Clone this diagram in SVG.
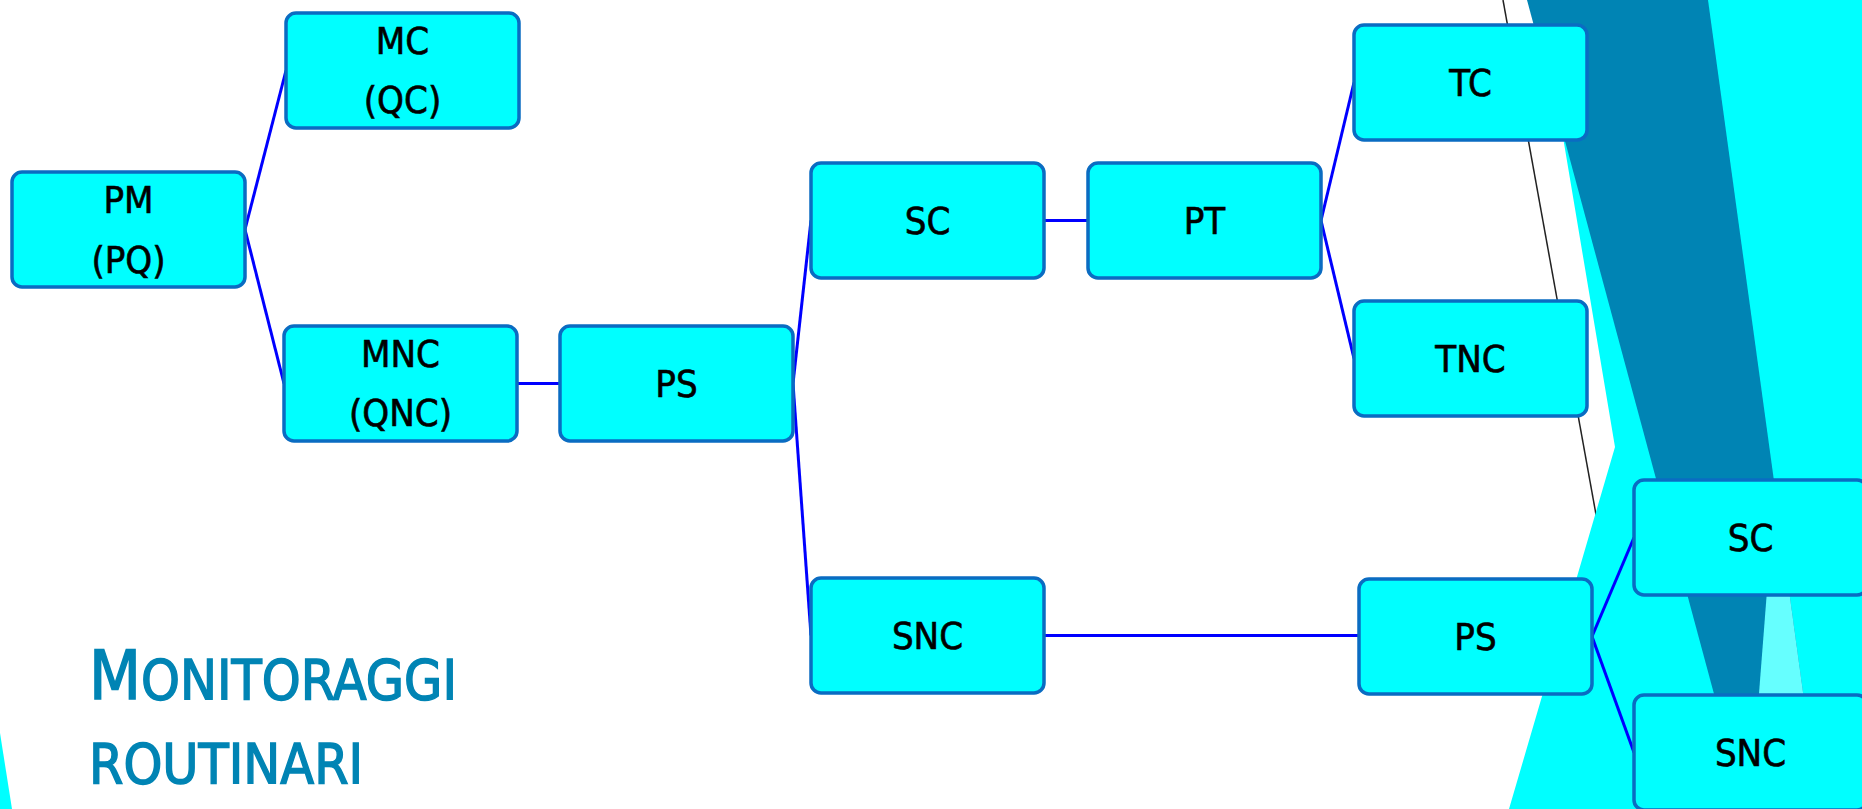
<svg xmlns="http://www.w3.org/2000/svg" width="1862" height="809" viewBox="0 0 1862 809">
  <style>
    .box { fill: #00FFFF; stroke: #0A6CC2; stroke-width: 3.5; }
    .lbl { font-family: "DejaVu Sans Condensed", "DejaVu Sans", sans-serif; font-stretch: condensed; font-size: 38px; fill: #000; stroke: #000; stroke-width: 0.6; text-anchor: middle; }
    .conn { stroke: #0000FF; stroke-width: 3; fill: none; }
    .title { font-family: "DejaVu Sans Condensed", "DejaVu Sans", sans-serif; font-stretch: condensed; font-size: 55px; fill: #0084B4; stroke: #0084B4; stroke-width: 1.4; }
  </style>
  <rect width="1862" height="809" fill="#FFFFFF"/>
  <g id="background">
    <line x1="1503" y1="0" x2="1597" y2="520" stroke="#222222" stroke-width="1.5"/>
    <polygon points="1540,0 1615,447 1509,809 1862,809 1862,0" fill="#00FFFF"/>
    <polygon points="1527,0 1708,0 1819,809 1745,809" fill="#0084B4"/>
    <polygon points="1775,488 1819,809 1750,809" fill="#66FFFF"/>
    <polygon points="0,733 12,809 0,809" fill="#00FFFF"/>
  </g>
  <g id="title">
    <text class="title" x="89" y="699"><tspan font-size="67">M</tspan>ONITORAGGI</text>
    <text class="title" x="89" y="783">ROUTINARI</text>
  </g>
  <g id="connectors">
    <line class="conn" x1="245" y1="229.5" x2="286" y2="70.5"/>
    <line class="conn" x1="245" y1="229.5" x2="284" y2="383.5"/>
    <line class="conn" x1="517" y1="383.5" x2="560" y2="383.5"/>
    <line class="conn" x1="793" y1="383.5" x2="811" y2="220.5"/>
    <line class="conn" x1="793" y1="383.5" x2="811" y2="635.5"/>
    <line class="conn" x1="1044" y1="220.5" x2="1088" y2="220.5"/>
    <line class="conn" x1="1321" y1="220.5" x2="1354" y2="82.5"/>
    <line class="conn" x1="1321" y1="220.5" x2="1354" y2="358.5"/>
    <line class="conn" x1="1044" y1="635.5" x2="1359" y2="635.5"/>
    <line class="conn" x1="1592" y1="636.5" x2="1634" y2="537.5"/>
    <line class="conn" x1="1592" y1="636.5" x2="1634" y2="752.5"/>
  </g>
  <g id="node-pm">
    <rect class="box" x="12" y="172" width="233" height="115" rx="10"/>
    <text class="lbl" x="128.5" y="213">PM</text>
    <text class="lbl" x="128.5" y="273">(PQ)</text>
  </g>
  <g id="node-mc">
    <rect class="box" x="286" y="13" width="233" height="115" rx="10"/>
    <text class="lbl" x="402.5" y="54">MC</text>
    <text class="lbl" x="402.5" y="113">(QC)</text>
  </g>
  <g id="node-mnc">
    <rect class="box" x="284" y="326" width="233" height="115" rx="10"/>
    <text class="lbl" x="400.5" y="367">MNC</text>
    <text class="lbl" x="400.5" y="426">(QNC)</text>
  </g>
  <g id="node-ps1">
    <rect class="box" x="560" y="326" width="233" height="115" rx="10"/>
    <text class="lbl" x="676.5" y="397">PS</text>
  </g>
  <g id="node-sc1">
    <rect class="box" x="811" y="163" width="233" height="115" rx="10"/>
    <text class="lbl" x="927.5" y="234">SC</text>
  </g>
  <g id="node-pt">
    <rect class="box" x="1088" y="163" width="233" height="115" rx="10"/>
    <text class="lbl" x="1204.5" y="234">PT</text>
  </g>
  <g id="node-tc">
    <rect class="box" x="1354" y="25" width="233" height="115" rx="10"/>
    <text class="lbl" x="1470.5" y="96">TC</text>
  </g>
  <g id="node-tnc">
    <rect class="box" x="1354" y="301" width="233" height="115" rx="10"/>
    <text class="lbl" x="1470.5" y="372">TNC</text>
  </g>
  <g id="node-snc1">
    <rect class="box" x="811" y="578" width="233" height="115" rx="10"/>
    <text class="lbl" x="927.5" y="649">SNC</text>
  </g>
  <g id="node-ps2">
    <rect class="box" x="1359" y="579" width="233" height="115" rx="10"/>
    <text class="lbl" x="1475.5" y="650">PS</text>
  </g>
  <g id="node-sc2">
    <rect class="box" x="1634" y="480" width="233" height="115" rx="10"/>
    <text class="lbl" x="1750.5" y="551">SC</text>
  </g>
  <g id="node-snc2">
    <rect class="box" x="1634" y="695" width="233" height="115" rx="10"/>
    <text class="lbl" x="1750.5" y="766">SNC</text>
  </g>
</svg>
